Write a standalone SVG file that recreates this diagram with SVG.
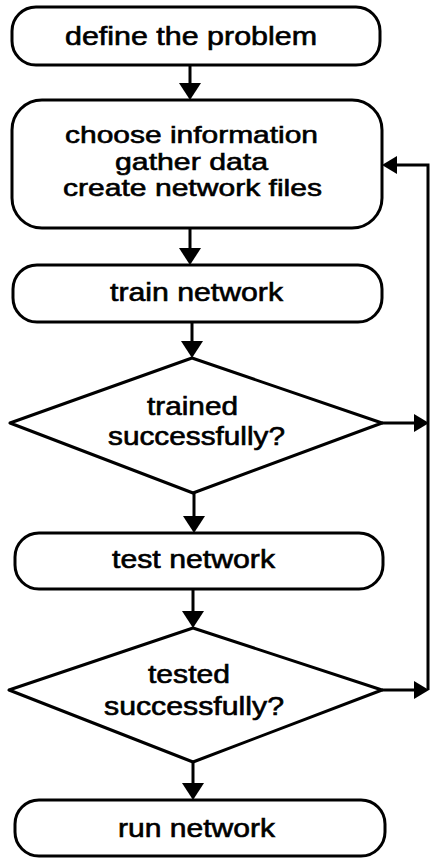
<svg xmlns="http://www.w3.org/2000/svg" width="430" height="859" viewBox="0 0 430 859">
  <style>
    .shape { fill: #ffffff; stroke: #000000; stroke-width: 3; stroke-linejoin: round; }
    .link { fill: none; stroke: #000000; stroke-width: 3; }
    .label { font-family: "Liberation Sans", Arial, Helvetica, sans-serif; font-size: 25px; fill: #000000; stroke: #000000; stroke-width: 0.6; }
    .small { font-size: 24px; }
  </style>
  <defs>
    <marker id="head" markerUnits="userSpaceOnUse" markerWidth="17" markerHeight="22" refX="7" refY="11" orient="auto">
      <path d="M0,0 L17,11 L0,22 z" fill="#000000"/>
    </marker>
    <marker id="headS" markerUnits="userSpaceOnUse" markerWidth="15" markerHeight="18" refX="5" refY="9" orient="auto">
      <path d="M0,0 L15,9 L0,18 z" fill="#000000"/>
    </marker>
  </defs>

  <rect width="430" height="859" fill="#ffffff"/>

  <!-- connectors -->
  <g id="connectors">
    <path class="link" d="M190,65 V90" marker-end="url(#head)"/>
    <path class="link" d="M190,228 V255" marker-end="url(#head)"/>
    <path class="link" d="M192,322 V348" marker-end="url(#head)"/>
    <path class="link" d="M194,493 V523" marker-end="url(#head)"/>
    <path class="link" d="M193,589 V618" marker-end="url(#head)"/>
    <path class="link" d="M193,762 V790" marker-end="url(#head)"/>
    <path class="link" d="M382,423 H419" marker-end="url(#headS)"/>
    <path class="link" d="M382,690 H419" marker-end="url(#headS)"/>
    <path class="link" d="M428,690 V165 H392" marker-end="url(#headS)"/>
  </g>

  <g id="define">
    <rect class="shape" x="12" y="7" width="368" height="58" rx="24"/>
    <text class="label" x="65" y="45" textLength="252" lengthAdjust="spacingAndGlyphs">define the problem</text>
  </g>

  <g id="prepare">
    <rect class="shape" x="12" y="100" width="370" height="128" rx="30"/>
    <text class="label small" x="65" y="143" textLength="253" lengthAdjust="spacingAndGlyphs">choose information</text>
    <text class="label small" x="115" y="170" textLength="153" lengthAdjust="spacingAndGlyphs">gather data</text>
    <text class="label small" x="63" y="196" textLength="259" lengthAdjust="spacingAndGlyphs">create network files</text>
  </g>

  <g id="train">
    <rect class="shape" x="13" y="265" width="369" height="57" rx="24"/>
    <text class="label" x="110" y="301" textLength="173" lengthAdjust="spacingAndGlyphs">train network</text>
  </g>

  <g id="trained-check">
    <polygon class="shape" points="192,358 382,423 193,493 10,423"/>
    <text class="label" x="147" y="415" textLength="91" lengthAdjust="spacingAndGlyphs">trained</text>
    <text class="label" x="108" y="445" textLength="177" lengthAdjust="spacingAndGlyphs">successfully?</text>
  </g>

  <g id="test">
    <rect class="shape" x="15" y="533" width="368" height="56" rx="24"/>
    <text class="label" x="112" y="568" textLength="163" lengthAdjust="spacingAndGlyphs">test network</text>
  </g>

  <g id="tested-check">
    <polygon class="shape" points="193,628 382,690 193,762 9,690"/>
    <text class="label" x="148" y="683" textLength="82" lengthAdjust="spacingAndGlyphs">tested</text>
    <text class="label" x="104" y="715" textLength="180" lengthAdjust="spacingAndGlyphs">successfully?</text>
  </g>

  <g id="run">
    <rect class="shape" x="15" y="800" width="370" height="56" rx="24"/>
    <text class="label" x="118" y="837" textLength="157" lengthAdjust="spacingAndGlyphs">run network</text>
  </g>
</svg>
